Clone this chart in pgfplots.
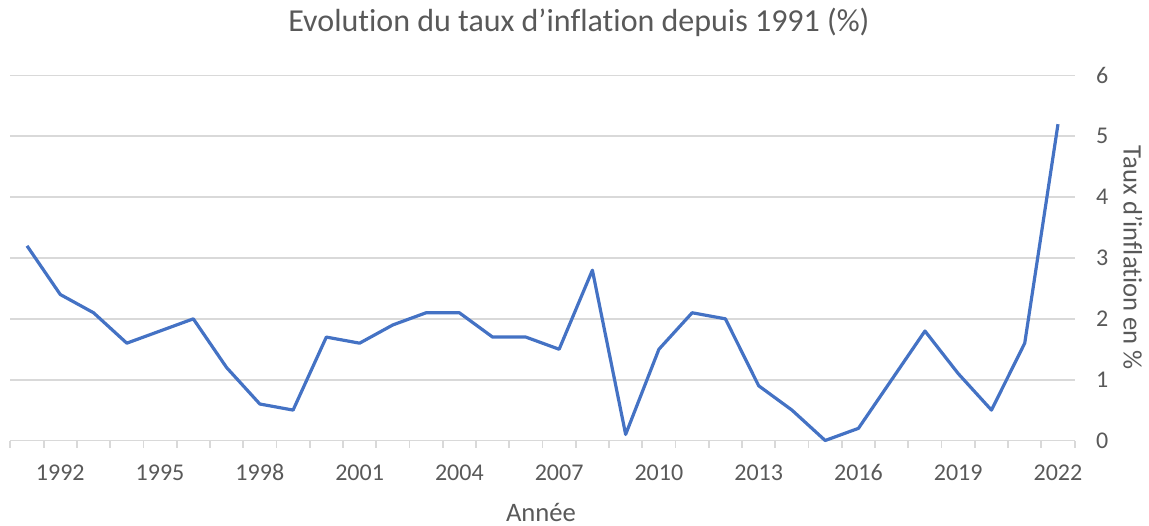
\documentclass[border=0pt]{standalone}
\usepackage{fontspec}
\setmainfont{Carlito}[Ligatures={ResetAll,NoCommon}]
\usepackage{pgfplots}
\pgfplotsset{compat=1.18}
\definecolor{txt}{HTML}{595959}
\definecolor{grd}{HTML}{D9D9D9}
\definecolor{ln}{HTML}{4472C4}
\begin{document}
\begin{tikzpicture}
\useasboundingbox (0,0) rectangle (574.5pt,262.5pt);
\begin{axis}[
  at={(5.2pt,42.25pt)}, anchor=south west,
  scale only axis, width=532.1pt, height=182.5pt,
  xmin=-0.5, xmax=31.5, ymin=0, ymax=6,
  axis line style={draw=none},
  ytick={0,1,2,3,4,5,6},
  ymajorgrids, grid style={grd, line width=0.9pt},
  ytick style={draw=none},
  yticklabel pos=right,
  yticklabel style={anchor=west, inner sep=0pt, xshift=10.5pt, font=\fontsize{12}{14}\selectfont, text=txt},
  xtick={1,4,7,10,13,16,19,22,25,28,31},
  xticklabels={1992,1995,1998,2001,2004,2007,2010,2013,2016,2019,2022},
  minor xtick={-0.5,0.5,...,31.5},
  major tick length=0pt, minor tick length=3.5pt,
  tick align=outside, xtick pos=bottom,
  minor x tick style={grd, line width=0.9pt},
  xticklabel style={anchor=base, inner sep=0pt, yshift=-19.75pt, font=\fontsize{12}{14}\selectfont, text=txt},
  /pgf/number format/assume math mode=true,
  clip=false,
]
\addplot[ln, line width=1.6pt, line join=round] coordinates {
(0,3.2) (1,2.4) (2,2.1) (3,1.6) (4,1.8) (5,2.0) (6,1.2) (7,0.6) (8,0.5)
(9,1.7) (10,1.6) (11,1.9) (12,2.1) (13,2.1) (14,1.7) (15,1.7) (16,1.5)
(17,2.8) (18,0.1) (19,1.5) (20,2.1) (21,2.0) (22,0.9) (23,0.5) (24,0.0)
(25,0.2) (26,1.0) (27,1.8) (28,1.1) (29,0.5) (30,1.6) (31,5.2)
};
\end{axis}
\node[text=txt, font=\fontsize{16}{19}\selectfont, anchor=center] at (289.5pt,251.5pt) {Evolution du taux d'inflation depuis 1991 (\%)};
\node[text=txt, font=\fontsize{13.33}{16}\selectfont, anchor=center] at (270.5pt,6.5pt) {Année};
\node[text=txt, font=\fontsize{13.33}{16}\selectfont, anchor=center, rotate=-90] at (566.5pt,133.5pt) {Taux d'inflation en \%};
\end{tikzpicture}
\end{document}
